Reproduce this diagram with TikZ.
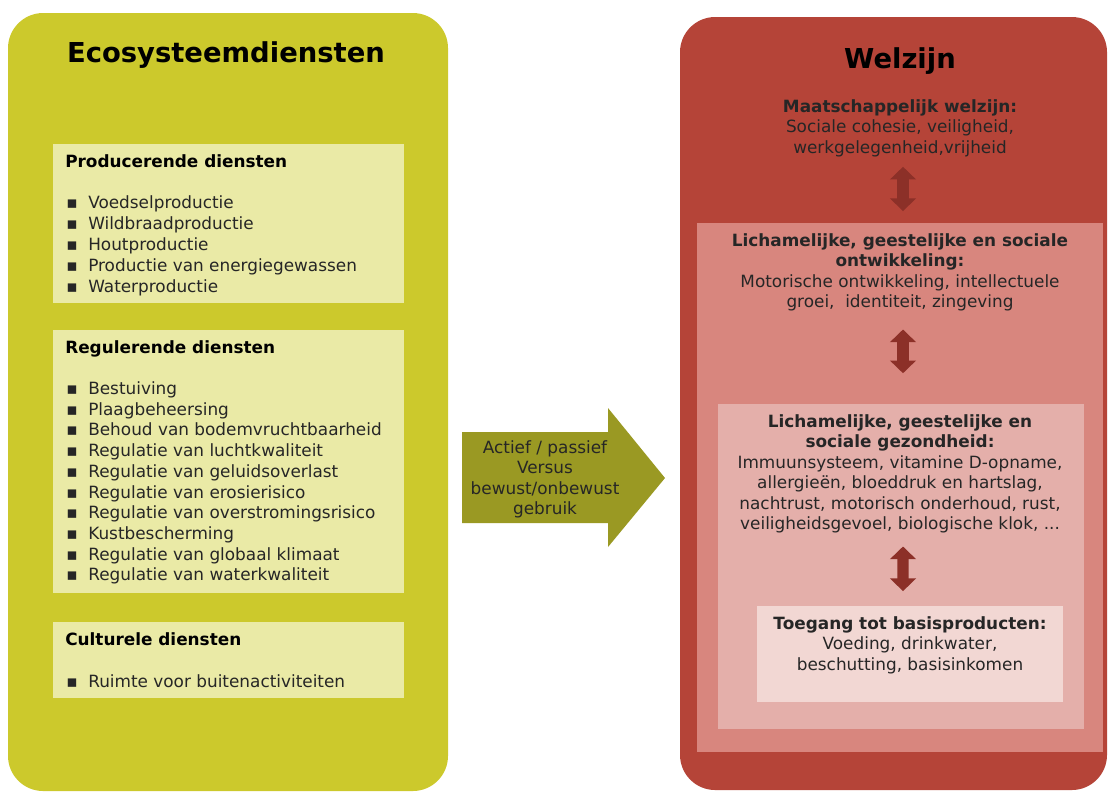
\documentclass[tikz,border=0pt]{standalone}
\usepackage{fontspec}
\setmainfont{DejaVu Sans}
\usetikzlibrary{arrows.meta}

\definecolor{groenpaneel}{RGB}{204,201,44}
\definecolor{groenvak}{RGB}{234,234,166}
\definecolor{olijf}{RGB}{154,153,35}
\definecolor{roodpaneel}{RGB}{181,68,56}
\definecolor{roodvak1}{RGB}{216,134,126}
\definecolor{roodvak2}{RGB}{228,175,170}
\definecolor{roodvak3}{RGB}{242,215,211}
\definecolor{donkerrood}{RGB}{140,48,40}

\begin{document}
\begin{tikzpicture}[x=0.025cm, y=-0.025cm,
    titel/.style={font=\fontsize{19.5}{23}\selectfont\bfseries, anchor=base, inner sep=0pt},
    kop/.style={font=\fontsize{12}{14.6}\selectfont\bfseries, anchor=base west, inner sep=0pt},
    punt/.style={font=\fontsize{12}{14.6}\selectfont, anchor=base west, inner sep=0pt, text=black!85},
    blok/.style={font=\fontsize{12}{14.6}\selectfont, align=center, anchor=north, inner sep=0pt, text=black!85},
    dubbel/.style={{Triangle[width=18pt,length=9pt]}-{Triangle[width=18pt,length=9pt]}, line width=8pt, donkerrood}
]
\useasboundingbox (0,0) rectangle (1108,792);

% Linker paneel - ecosysteemdiensten
\fill[groenpaneel, rounded corners=25pt] (8,13) rectangle (448,791);
\node[titel] (ecotitel) at (226,62) {Ecosysteemdiensten};

\fill[groenvak] (53,144) rectangle (404,303);
\fill[groenvak] (53,330) rectangle (404,593);
\fill[groenvak] (53,622) rectangle (404,698);

\node[kop] (prodkop) at (65,167) {Producerende diensten};
\foreach \tekst [count=\i from 0] in {Voedselproductie, Wildbraadproductie, Houtproductie,
    Productie van energiegewassen, Waterproductie} {
  \node[punt] (prodbol-\i) at (66,208+21*\i) {▪};
  \node[punt] (prod-\i) at (88,208+21*\i) {\tekst};
}

\node[kop] (regkop) at (65,353) {Regulerende diensten};
\foreach \tekst [count=\i from 0] in {Bestuiving, Plaagbeheersing, Behoud van bodemvruchtbaarheid,
    Regulatie van luchtkwaliteit, Regulatie van geluidsoverlast, Regulatie van erosierisico,
    Regulatie van overstromingsrisico, Kustbescherming, Regulatie van globaal klimaat,
    Regulatie van waterkwaliteit} {
  \node[punt] (regbol-\i) at (66,394.5+20.7*\i) {▪};
  \node[punt] (reg-\i) at (88,394.5+20.7*\i) {\tekst};
}

\node[kop] (cultkop) at (65,645) {Culturele diensten};
\node[punt] (cultbol-0) at (66,687) {▪};
\node[punt] (cult-0) at (88,687) {Ruimte voor buitenactiviteiten};

% Grote pijl in het midden
\fill[olijf] (462,432) -- (608,432) -- (608,408) -- (665,478) -- (608,547)
  -- (608,523) -- (462,523) -- cycle;
\node[blok] (gebruik) at (545,440) {Actief / passief\\Versus\\bewust/onbewust\\gebruik};

% Rechter paneel - welzijn
\fill[roodpaneel, rounded corners=25pt] (680,17) rectangle (1107,790);
\node[titel] (welztitel) at (900,68) {Welzijn};

\fill[roodvak1] (697,223) rectangle (1103,752);
\fill[roodvak2] (718,404) rectangle (1084,729);
\fill[roodvak3] (757,606) rectangle (1063,702);

\node[blok] (maat) at (900,99) {\textbf{Maatschappelijk welzijn:}\\Sociale cohesie, veiligheid,\\werkgelegenheid,vrijheid};
\node[blok] (ontw) at (900,233) {\textbf{Lichamelijke, geestelijke en sociale}\\\textbf{ontwikkeling:}\\Motorische ontwikkeling, intellectuele\\groei,~ identiteit, zingeving};
\node[blok] (gezond) at (900,414) {\textbf{Lichamelijke, geestelijke en}\\\textbf{sociale gezondheid:}\\Immuunsysteem, vitamine D-opname,\\allergieën, bloeddruk en hartslag,\\nachtrust, motorisch onderhoud, rust,\\veiligheidsgevoel, biologische klok, ...};
\node[blok] (basis) at (910,616) {\textbf{Toegang tot basisproducten:}\\Voeding, drinkwater,\\beschutting, basisinkomen};

% Dubbele pijlen
\draw[dubbel, shorten <=7pt, shorten >=15.6pt] ([xshift=0.075cm]maat.south) -- ([xshift=0.075cm]ontw.north);
\draw[dubbel, shorten <=12.8pt, shorten >=29pt] ([xshift=0.075cm]ontw.south) -- ([xshift=0.075cm]gezond.north);
\draw[dubbel, shorten <=9.2pt, shorten >=17.7pt] ([xshift=0.075cm]gezond.south) -- ([xshift=-0.175cm]basis.north);

\end{tikzpicture}
\end{document}
